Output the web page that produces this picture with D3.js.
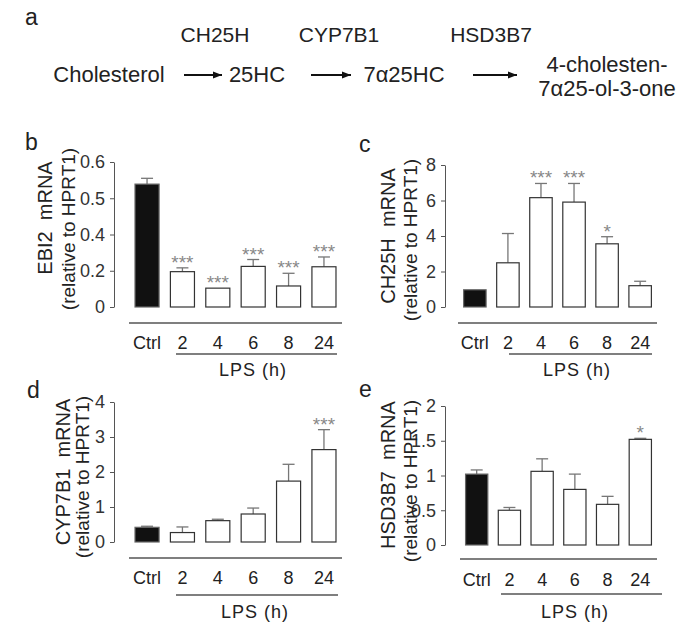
<!DOCTYPE html>
<html><head><meta charset="utf-8">
<script src="https://cdn.jsdelivr.net/npm/d3@7"></script>
<style>
body{margin:0;background:#fff;}
svg{display:block;font-family:"Liberation Sans",Arial,sans-serif;}
</style></head>
<body><svg id="chart" width="697" height="639"></svg>
<script>
// ---- data ----
const categories = ["Ctrl", "2", "4", "6", "8", "24"];

const ebi2Values = [0.539, 0.195, 0.104, 0.224, 0.116, 0.222];
const ebi2Errors = [0.016, 0.021, 0.0, 0.038, 0.07, 0.054];
const ebi2Stars  = ["", "***", "***", "***", "***", "***"];
const ebi2Ticks  = [0, 0.2, 0.4, 0.5, 0.6];

const ch25hValues = [0.97, 2.49, 6.16, 5.91, 3.56, 1.2];
const ch25hErrors = [0.0, 1.65, 0.8, 1.05, 0.4, 0.25];
const ch25hStars  = ["", "", "***", "***", "*", ""];
const ch25hTicks  = [0, 2, 4, 6, 8];

const cyp7b1Values = [0.42, 0.27, 0.61, 0.80, 1.74, 2.64];
const cyp7b1Errors = [0.03, 0.16, 0.04, 0.17, 0.48, 0.57];
const cyp7b1Stars  = ["", "", "", "", "", "***"];
const cyp7b1Ticks  = [0, 1, 2, 3, 4];

const hsd3b7Values = [1.02, 0.50, 1.06, 0.80, 0.585, 1.52];
const hsd3b7Errors = [0.06, 0.04, 0.18, 0.22, 0.115, 0.015];
const hsd3b7Stars  = ["", "", "", "", "", "*"];
const hsd3b7Ticks  = [0, 0.5, 1, 1.5, 2];

const pathwayCompounds = ["Cholesterol", "25HC", "7α25HC"];
const pathwayEnzymes = ["CH25H", "CYP7B1", "HSD3B7"];
const pathwayProduct = ["4-cholesten-", "7α25-ol-3-one"];

const svg = d3.select("#chart");
const textColor = "#222";

// ---- panel a ----
svg.append("text").attr("x", 25).attr("y", 25).attr("font-size", 23).attr("fill", textColor).text("a");
const enzymeX = [215, 339, 491];
pathwayEnzymes.forEach((t, i) => {
  svg.append("text").attr("x", enzymeX[i]).attr("y", 42).attr("text-anchor", "middle")
    .attr("font-size", 21).attr("fill", textColor).text(t);
});
const compoundX = [109, 257, 404];
pathwayCompounds.forEach((t, i) => {
  svg.append("text").attr("x", compoundX[i]).attr("y", 82).attr("text-anchor", "middle")
    .attr("font-size", 22).attr("fill", textColor).text(t);
});
const arrows = [[184, 222], [311, 351], [473, 517]];
const defs = svg.append("defs");
defs.append("marker").attr("id", "arr").attr("viewBox", "0 0 10 10").attr("refX", 10).attr("refY", 5)
  .attr("markerWidth", 9).attr("markerHeight", 9).attr("markerUnits", "userSpaceOnUse").attr("orient", "auto")
  .append("path").attr("d", "M0,1 L10,5 L0,9 Z").attr("fill", "#111");
arrows.forEach(a => {
  svg.append("line").attr("x1", a[0]).attr("x2", a[1]).attr("y1", 75).attr("y2", 75)
    .attr("stroke", "#111").attr("stroke-width", 2).attr("marker-end", "url(#arr)");
});
pathwayProduct.forEach((t, i) => {
  svg.append("text").attr("x", 607).attr("y", 72 + i * 24).attr("text-anchor", "middle")
    .attr("font-size", 22).attr("fill", textColor).text(t);
});

// ---- bar panels ----
const panels = [
  {letter: "b", gene: "EBI2", values: ebi2Values, errors: ebi2Errors, stars: ebi2Stars, ticks: ebi2Ticks,
   letterX: 25, letterY: 150, x0: 129, x1: 342, axisX: 114, y0: 307, yTop: 162,
   catLineY: 323, catLabelY: 349, lps: [176, 337], lpsLineY: 354, lpsLabelY: 376, lpsX: 253,
   lab1: [45, 218], lab2: [68, 229]},
  {letter: "c", gene: "CH25H", values: ch25hValues, errors: ch25hErrors, stars: ch25hStars, ticks: ch25hTicks,
   letterX: 359, letterY: 152, x0: 458, x1: 657, axisX: 445, y0: 307, yTop: 165,
   catLineY: 323, catLabelY: 349, lps: [509, 652], lpsLineY: 354, lpsLabelY: 376, lpsX: 577,
   lab1: [388, 236], lab2: [410, 240]},
  {letter: "d", gene: "CYP7B1", values: cyp7b1Values, errors: cyp7b1Errors, stars: cyp7b1Stars, ticks: cyp7b1Ticks,
   letterX: 27, letterY: 398, x0: 129, x1: 342, axisX: 114, y0: 542, yTop: 402,
   catLineY: 558, catLabelY: 584, lps: [176, 338], lpsLineY: 595, lpsLabelY: 618, lpsX: 255,
   lab1: [63, 472], lab2: [82, 477]},
  {letter: "e", gene: "HSD3B7", values: hsd3b7Values, errors: hsd3b7Errors, stars: hsd3b7Stars, ticks: hsd3b7Ticks,
   letterX: 359, letterY: 397, x0: 460, x1: 657, axisX: 445, y0: 545, yTop: 406,
   catLineY: 559, catLabelY: 586, lps: [501, 662], lpsLineY: 594, lpsLabelY: 618, lpsX: 575,
   lab1: [388, 475], lab2: [410, 481]}
];

panels.forEach(p => {
  const g = svg.append("g");
  g.append("text").attr("x", p.letterX).attr("y", p.letterY).attr("font-size", 23).attr("fill", textColor).text(p.letter);

  const n = p.ticks.length;
  const y = d3.scaleLinear().domain(p.ticks)
    .range(p.ticks.map((_, i) => p.y0 - i * (p.y0 - p.yTop) / (n - 1)));
  const x = d3.scaleBand().domain(categories).range([p.x0, p.x1]).paddingInner(0.32).paddingOuter(0.17);

  const ax = g.append("g").attr("transform", `translate(${p.axisX},0)`)
    .call(d3.axisLeft(y).tickValues(p.ticks).tickFormat(d => String(d)).tickSize(4).tickSizeOuter(0).tickPadding(5));
  ax.select(".domain").attr("stroke", "#555");
  ax.selectAll(".tick line").attr("stroke", "#555");
  ax.selectAll(".tick text").attr("font-size", 18).attr("fill", "#333").attr("font-family", "Liberation Sans, Arial, sans-serif");

  const data = categories.map((c, i) => ({c, v: p.values[i], e: p.errors[i], s: p.stars[i]}));

  // error bars
  data.forEach(d => {
    if (d.e <= 0) return;
    const cx = x(d.c) + x.bandwidth() / 2;
    g.append("line").attr("x1", cx).attr("x2", cx).attr("y1", y(d.v)).attr("y2", y(d.v + d.e))
      .attr("stroke", "#777").attr("stroke-width", 1.3);
    g.append("line").attr("x1", cx - 6).attr("x2", cx + 6).attr("y1", y(d.v + d.e)).attr("y2", y(d.v + d.e))
      .attr("stroke", "#777").attr("stroke-width", 1.3);
  });

  g.selectAll("rect.bar").data(data).join("rect").attr("class", "bar")
    .attr("x", d => x(d.c)).attr("width", x.bandwidth())
    .attr("y", d => y(d.v)).attr("height", d => y(0) - y(d.v))
    .attr("fill", (d, i) => i === 0 ? "#111" : "#fff")
    .attr("stroke", (d, i) => i === 0 ? "#666" : "#333").attr("stroke-width", 1.2);

  data.forEach(d => {
    if (!d.s) return;
    g.append("text").attr("x", x(d.c) + x.bandwidth() / 2).attr("y", y(d.v + d.e) + 1)
      .attr("text-anchor", "middle").attr("font-size", 19).attr("fill", "#888").text(d.s);
  });

  // category line and labels
  g.append("line").attr("x1", p.x0).attr("x2", p.x1).attr("y1", p.catLineY).attr("y2", p.catLineY)
    .attr("stroke", "#555").attr("stroke-width", 1.5);
  categories.forEach(c => {
    g.append("text").attr("x", x(c) + x.bandwidth() / 2).attr("y", p.catLabelY).attr("text-anchor", "middle")
      .attr("font-size", 18).attr("fill", textColor).text(c);
  });
  g.append("line").attr("x1", p.lps[0]).attr("x2", p.lps[1]).attr("y1", p.lpsLineY).attr("y2", p.lpsLineY)
    .attr("stroke", "#555").attr("stroke-width", 1.5);
  g.append("text").attr("x", p.lpsX).attr("y", p.lpsLabelY).attr("text-anchor", "middle")
    .attr("font-size", 18).attr("letter-spacing", 1).attr("fill", textColor).text("LPS (h)");

  // y labels
  g.append("text").attr("transform", `translate(${p.lab1[0]},${p.lab1[1]}) rotate(-90)`)
    .attr("dy", "0.35em").attr("text-anchor", "middle").attr("font-size", 20).attr("fill", textColor)
    .attr("xml:space", "preserve").text(p.gene + "  mRNA");
  g.append("text").attr("transform", `translate(${p.lab2[0]},${p.lab2[1]}) rotate(-90)`)
    .attr("dy", "0.35em").attr("text-anchor", "middle").attr("font-size", 19).attr("fill", textColor)
    .text("(relative to HPRT1)");
});
</script></body></html>
